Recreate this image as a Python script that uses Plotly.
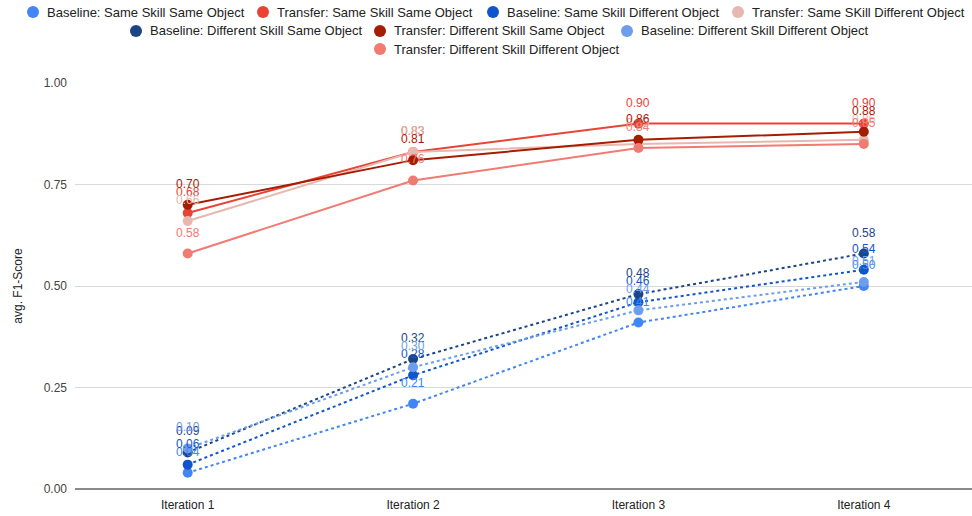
import plotly.graph_objects as go

# Iterations on the x axis
iterations = ["Iteration 1", "Iteration 2", "Iteration 3", "Iteration 4"]
y_ticks = [0.0, 0.25, 0.5, 0.75, 1.0]
y_tick_labels = ["0.00", "0.25", "0.50", "0.75", "1.00"]

# avg. F1-score per series
baseline_ss_so = [0.04, 0.21, 0.41, 0.50]
transfer_ss_so = [0.68, 0.83, 0.90, 0.90]
baseline_ss_do = [0.06, 0.28, 0.46, 0.54]
transfer_ss_do = [0.66, 0.83, 0.85, 0.86]
baseline_ds_so = [0.09, 0.32, 0.48, 0.58]
transfer_ds_so = [0.70, 0.81, 0.86, 0.88]
baseline_ds_do = [0.10, 0.30, 0.44, 0.51]
transfer_ds_do = [0.58, 0.76, 0.84, 0.85]

series_names = [
    "Baseline: Same Skill Same Object",
    "Transfer: Same Skill Same Object",
    "Baseline: Same Skill Different Object",
    "Transfer: Same SKill Different Object",
    "Baseline: Different Skill Same Object",
    "Transfer: Different Skill Same Object",
    "Baseline: Different Skill Different Object",
    "Transfer: Different Skill Different Object",
]
series_values = [baseline_ss_so, transfer_ss_so, baseline_ss_do, transfer_ss_do,
                 baseline_ds_so, transfer_ds_so, baseline_ds_do, transfer_ds_do]
series_colors = ["#4285F4", "#EA4335", "#1155CC", "#E6B8AF",
                 "#1C4587", "#A61C00", "#6D9EEB", "#F07B72"]
series_dash = ["dot", "solid", "dot", "solid", "dot", "solid", "dot", "solid"]

# Legend layout in pixels: (circle x, row y) for each entry, three centred rows
legend_slots = [(33, 12), (263, 12), (493, 12), (738, 12),
                (136, 31), (380, 31), (627, 31),
                (380, 49)]

FONT = "Liberation Sans, Arial, sans-serif"
W, H = 972, 516
ML, MR, MT, MB = 75, 0, 83, 27
PW, PH = W - ML - MR, H - MT - MB


def px_to_paper(px, py):
    return (px - ML) / PW, (H - MB - py) / PH


fig = go.Figure()
annotations = []
shapes = []

for name, vals, color, dash, (cx, cy) in zip(series_names, series_values, series_colors,
                                             series_dash, legend_slots):
    fig.add_trace(go.Scatter(
        x=iterations, y=vals, mode="lines+markers", name=name,
        line=dict(color=color, width=2, dash=dash),
        marker=dict(color=color, size=10),
        cliponaxis=False, hoverinfo="skip",
    ))
    # value labels above each point
    for it, v in zip(iterations, vals):
        annotations.append(dict(
            x=it, y=v, xref="x", yref="y", text=f"{v:.2f}", showarrow=False,
            yshift=21, font=dict(family=FONT, size=12, color=color),
        ))
    # legend entry: circle + label
    lx, ly = px_to_paper(cx, cy)
    shapes.append(dict(
        type="circle", xref="paper", yref="paper",
        xsizemode="pixel", ysizemode="pixel", xanchor=lx, yanchor=ly,
        x0=-6, x1=6, y0=-6, y1=6, fillcolor=color, line=dict(width=0),
    ))
    tx, _ = px_to_paper(cx + 12, cy)
    annotations.append(dict(
        x=tx, y=ly, xref="paper", yref="paper", text=name, showarrow=False,
        xanchor="left", yanchor="middle",
        font=dict(family=FONT, size=13, color="#222222"),
    ))

fig.update_layout(
    width=W, height=H,
    margin=dict(l=ML, r=MR, t=MT, b=MB),
    paper_bgcolor="white", plot_bgcolor="white",
    font=dict(family=FONT, size=12, color="#444444"),
    showlegend=False,
    annotations=annotations,
    shapes=shapes,
    xaxis=dict(
        type="category", range=[-0.5, 3.48], showgrid=False, showline=False,
        zeroline=False, ticks="", ticklabelstandoff=7,
        tickfont=dict(family=FONT, size=12, color="#222222"),
    ),
    yaxis=dict(
        range=[0, 1], tickvals=y_ticks, ticktext=y_tick_labels,
        showgrid=True, gridcolor="#d9d9d9", gridwidth=1,
        zeroline=True, zerolinecolor="#8a8a8a", zerolinewidth=2,
        showline=False, ticks="", ticklabelstandoff=7,
        tickfont=dict(family=FONT, size=12, color="#444444"),
        title=dict(text="avg. F1-Score", standoff=18,
                   font=dict(family=FONT, size=12, color="#222222")),
    ),
)

fig.write_html("out.html")
